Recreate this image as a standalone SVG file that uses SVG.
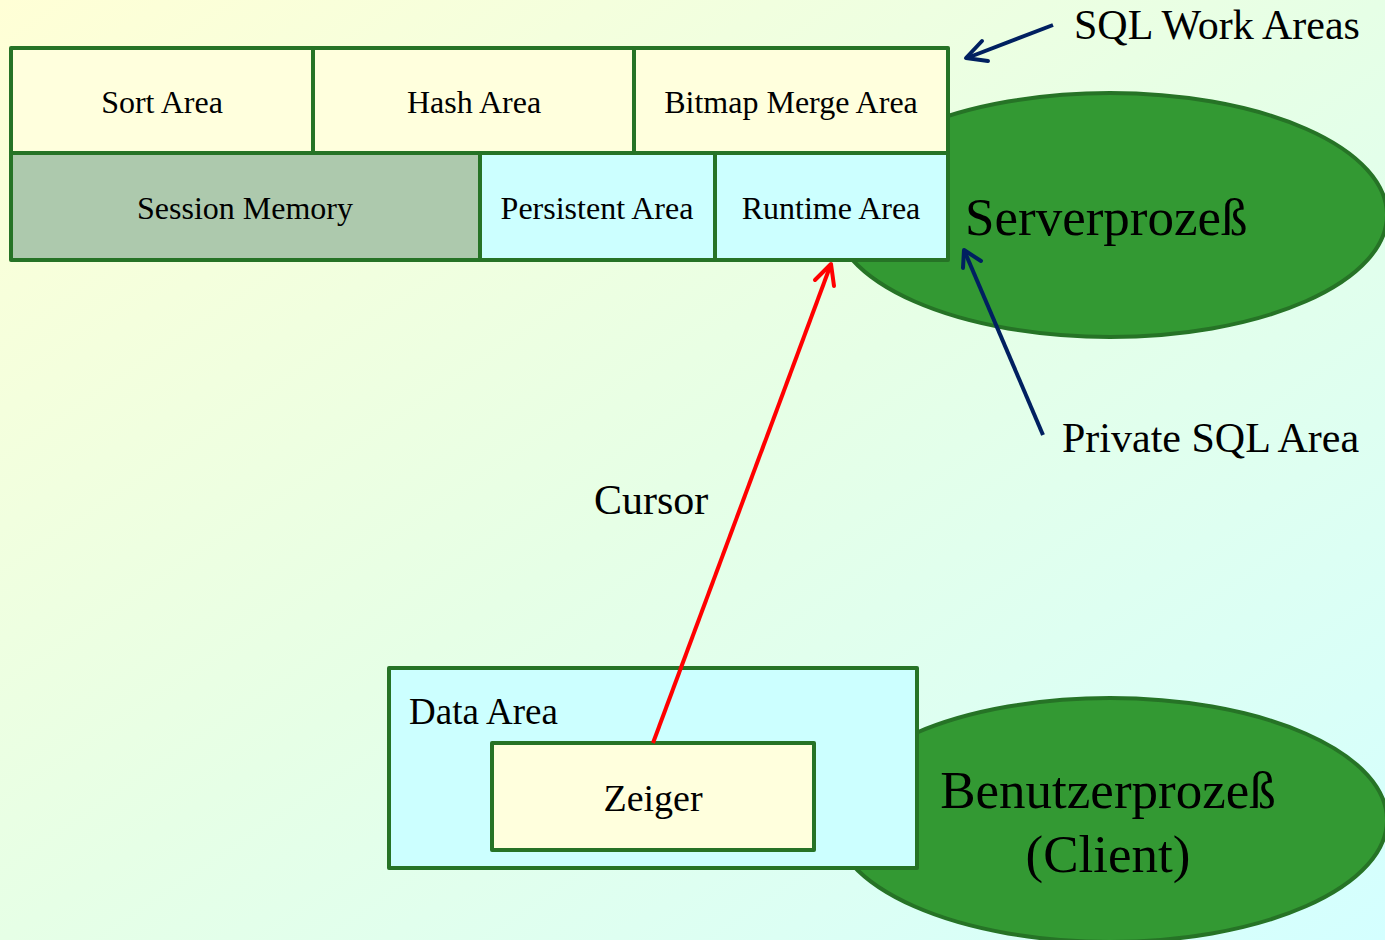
<svg xmlns="http://www.w3.org/2000/svg" width="1385" height="940" viewBox="0 0 1385 940">
<style>
.t{font-family:"Liberation Serif","Times New Roman",serif;fill:#000}
.box{stroke:#267326;stroke-width:4;stroke-linejoin:round}
.ell{fill:#339933;stroke:#267326;stroke-width:4}
.nv{stroke:#002060;stroke-width:4;fill:none}
</style>
<defs>
<linearGradient id="bg" x1="0" y1="0" x2="1" y2="1">
<stop offset="0" stop-color="#ffffd6"/>
<stop offset="0.5" stop-color="#e6ffe6"/>
<stop offset="1" stop-color="#d4ffff"/>
</linearGradient>
</defs>
<rect width="1385" height="940" fill="url(#bg)"/>
<g id="server-process">
<ellipse class="ell" cx="1110" cy="215" rx="277" ry="122"/>
<text class="t" x="965" y="235" font-size="53">Serverprozeß</text>
</g>
<g id="client-process">
<ellipse class="ell" cx="1110" cy="820" rx="277" ry="122"/>
<text class="t" x="1108" y="808" font-size="53" text-anchor="middle">Benutzerprozeß</text>
<text class="t" x="1108" y="872" font-size="53" text-anchor="middle">(Client)</text>
</g>
<g id="sort-area">
<rect class="box" x="11" y="48" width="302" height="105" fill="#ffffdd"/>
<text class="t" x="162" y="113" font-size="32" text-anchor="middle">Sort Area</text>
</g>
<g id="hash-area">
<rect class="box" x="313" y="48" width="321" height="105" fill="#ffffdd"/>
<text class="t" x="474" y="113" font-size="32" text-anchor="middle">Hash Area</text>
</g>
<g id="bitmap-merge-area">
<rect class="box" x="634" y="48" width="314" height="105" fill="#ffffdd"/>
<text class="t" x="791" y="113" font-size="32" text-anchor="middle">Bitmap Merge Area</text>
</g>
<g id="session-memory">
<rect class="box" x="11" y="153" width="469" height="107" fill="#adc9ad"/>
<text class="t" x="245" y="219" font-size="32" text-anchor="middle">Session Memory</text>
</g>
<g id="persistent-area">
<rect class="box" x="480" y="153" width="235" height="107" fill="#ccffff"/>
<text class="t" x="597" y="219" font-size="32" text-anchor="middle">Persistent Area</text>
</g>
<g id="runtime-area">
<rect class="box" x="715" y="153" width="233" height="107" fill="#ccffff"/>
<text class="t" x="831" y="219" font-size="32" text-anchor="middle">Runtime Area</text>
</g>
<g id="data-area">
<rect class="box" x="389" y="668" width="528" height="200" fill="#ccffff"/>
<text class="t" x="409" y="724" font-size="37">Data Area</text>
</g>
<g id="zeiger">
<rect class="box" x="492" y="743" width="322" height="107" fill="#ffffdd"/>
<text class="t" x="653" y="811" font-size="38" text-anchor="middle">Zeiger</text>
</g>
<g id="labels">
<text class="t" x="1074" y="39" font-size="42">SQL Work Areas</text>
<text class="t" x="1062" y="452" font-size="42">Private SQL Area</text>
<text class="t" x="594" y="514" font-size="42">Cursor</text>
</g>
<g id="connectors">
<line x1="653" y1="743" x2="831" y2="264" stroke="#ff0000" stroke-width="4"/>
<polyline points="815,280 831,264 834,286" fill="none" stroke="#ff0000" stroke-width="4" stroke-linecap="round" stroke-linejoin="round"/>
<line class="nv" x1="1053" y1="25" x2="967" y2="58"/>
<polyline class="nv" points="982,41 966,58 988,61" stroke-linecap="round" stroke-linejoin="round"/>
<line class="nv" x1="1043" y1="435" x2="964" y2="250"/>
<polyline class="nv" points="963,268 964,250 981,261" stroke-linecap="round" stroke-linejoin="round"/>
</g>
</svg>
